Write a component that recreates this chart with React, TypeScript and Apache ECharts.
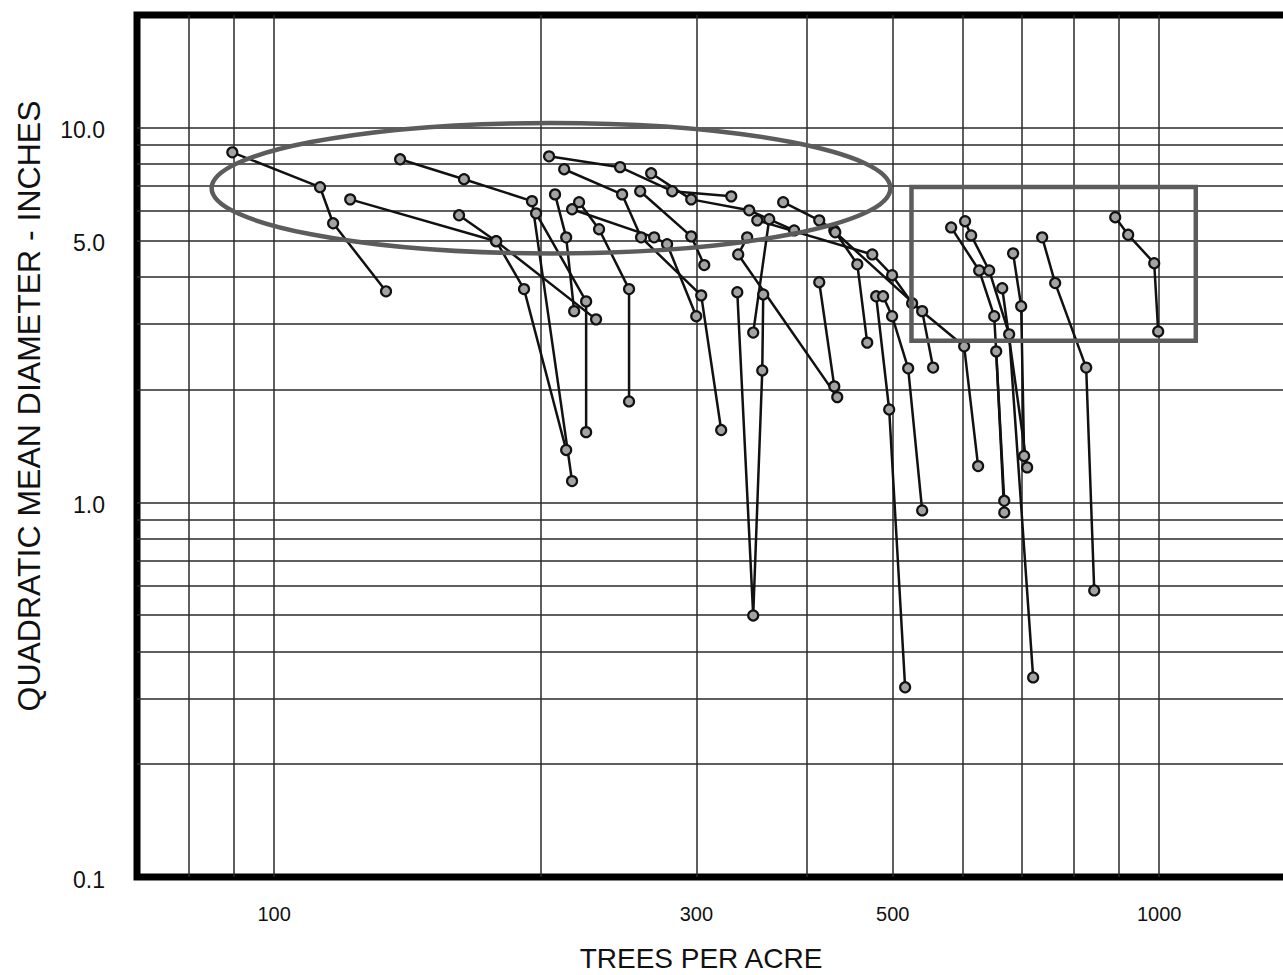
import React, { useEffect, useRef } from "react";
import * as echarts from "echarts";

// Axis ticks / grid values
const xLabelValues = [100, 300, 500, 1000];
const yLabelValues = [0.1, 1, 5, 10];
const xGridValues = [80, 90, 100, 200, 300, 400, 500, 600, 700, 800, 900, 1000];
const yGridValues = [0.2, 0.3, 0.4, 0.5, 0.6, 0.7, 0.8, 0.9, 1, 2, 3, 4, 5, 6, 7, 8, 9, 10];

// Stand trajectories: [trees per acre, quadratic mean diameter (in)]
const s01 = [[89.7, 8.6], [112.7, 6.94], [116.6, 5.56], [133.8, 3.66]];
const s02 = [[121.9, 6.44], [178.2, 4.98], [231.1, 3.08]];
const s03 = [[161.8, 5.84], [178.2, 4.98], [191.6, 3.71], [213.8, 1.38]];
const s04 = [[138.8, 8.24], [163.9, 7.29], [195.6, 6.37], [217.1, 1.14]];
const s05 = [[197.7, 5.91], [225.2, 3.44], [225.2, 1.54]];
const s06 = [[204.5, 8.39], [246.0, 7.85], [281.7, 6.77], [328.5, 6.56]];
const s07 = [[212.7, 7.75], [247.3, 6.64], [259.8, 5.1], [303.8, 3.57], [320.0, 1.56]];
const s08 = [[221.1, 6.33], [232.9, 5.36], [251.8, 3.71], [251.8, 1.86]];
const s09 = [[217.1, 6.06], [268.8, 5.1], [278.0, 4.89], [299.9, 3.14]];
const s10 = [[207.7, 6.64], [213.8, 5.1], [218.3, 3.24]];
const s11 = [[259.2, 6.77], [296.0, 5.13], [306.2, 4.3]];
const s12 = [[266.7, 7.56], [296.0, 6.44], [344.2, 6.02], [386.9, 5.32]];
const s13 = [[376.0, 6.33], [413.0, 5.66], [429.5, 5.32], [456.0, 4.32], [467.9, 2.67]];
const s14 = [[351.5, 5.66], [474.1, 4.59], [499.2, 4.04], [525.9, 3.4], [602.1, 2.61], [624.4, 1.25]];
const s15 = [[342.4, 5.1], [334.5, 4.59], [432.8, 1.91]];
const s16 = [[333.7, 3.64], [347.8, 0.499], [356.1, 2.25], [357.0, 3.59]];
const s17 = [[362.6, 5.7], [347.8, 2.84]];
const s18 = [[413.0, 3.87], [429.5, 2.04]];
const s19 = [[478.9, 3.55], [495.4, 1.77], [516.4, 0.321]];
const s20 = [[487.6, 3.55], [499.2, 3.14], [520.5, 2.28], [539.8, 0.952]];
const s21 = [[430.6, 5.26], [539.8, 3.24], [555.4, 2.29]];
const s22 = [[582.1, 5.42], [626.1, 4.16], [651.1, 3.14], [668.3, 1.01]];
const s23 = [[603.6, 5.63], [613.2, 5.16], [642.6, 4.16], [676.9, 2.81], [720.5, 0.341]];
const s24 = [[654.5, 2.53], [668.3, 0.94]];
const s25 = [[683.9, 4.62], [698.4, 3.34], [703.8, 1.33]];
const s26 = [[737.6, 5.1], [763.0, 3.85], [827.1, 2.29], [844.6, 0.582]];
const s27 = [[892.0, 5.77], [922.6, 5.18], [987.2, 4.35], [997.5, 2.86]];
const s28 = [[664.8, 3.73], [709.3, 1.24]];

const stands = [s01, s02, s03, s04, s05, s06, s07, s08, s09, s10, s11, s12, s13, s14,
  s15, s16, s17, s18, s19, s20, s21, s22, s23, s24, s25, s26, s27, s28];

// Annotation regions in data units
const ellipseX = [85, 497];
const ellipseY = [4.62, 10.3];
const boxX = [525, 1100];
const boxY = [2.7, 6.95];

const FONT = "'Liberation Sans', Arial, Helvetica, sans-serif";

export default function App() {
  const ref = useRef<HTMLDivElement>(null);
  useEffect(() => {
    if (!ref.current) return;
    const chart = echarts.init(ref.current, null, { renderer: "svg" });
    const series = stands.map((d, i) => ({
      type: "line",
      name: "stand" + (i + 1),
      data: d,
      symbol: "circle",
      symbolSize: 10,
      showAllSymbol: true,
      lineStyle: { color: "#111", width: 2.5 },
      itemStyle: { color: "#a3a3a3", borderColor: "#111", borderWidth: 2.2 },
      emphasis: { disabled: true },
      z: 3,
    }));
    chart.setOption({
      animation: false,
      backgroundColor: "#ffffff",
      textStyle: { fontFamily: FONT },
      grid: {
        left: 137, top: 15, bottom: 98, right: 5,
        outerBoundsMode: "none", containLabel: false,
        show: true, borderColor: "#000", borderWidth: 7, backgroundColor: "#fff",
      },
      xAxis: {
        type: "log", logBase: 10, min: 70, max: 1500,
        name: "TREES PER ACRE", nameLocation: "middle", nameGap: 67,
        nameTextStyle: { fontSize: 28, color: "#111", fontFamily: FONT, padding: [0, 50, 0, 0] },
        axisLine: { show: false },
        axisTick: { show: false, customValues: xGridValues },
        axisLabel: {
          customValues: xLabelValues, fontSize: 20, color: "#111", margin: 27, fontFamily: FONT,
          formatter: (v: number) => String(Math.round(v)),
        },
        splitLine: { show: true, lineStyle: { color: "#2a2a2a", width: 1.5 } },
        minorSplitLine: { show: false },
      },
      yAxis: {
        type: "log", logBase: 10, min: 0.1, max: 20,
        name: "QUADRATIC MEAN DIAMETER - INCHES", nameLocation: "middle", nameGap: 92,
        nameTextStyle: { fontSize: 32, color: "#111", fontFamily: FONT, padding: [0, 0, 0, 80] },
        axisLine: { show: false },
        axisTick: { show: false, customValues: yGridValues },
        axisLabel: {
          customValues: yLabelValues, fontSize: 23, color: "#111", margin: 32, fontFamily: FONT,
          verticalAlign: "top", lineHeight: 5,
          formatter: (v: number) => v.toFixed(1),
        },
        splitLine: { show: true, lineStyle: { color: "#2a2a2a", width: 1.5 } },
      },
      series,
    });

    const e1 = chart.convertToPixel({ gridIndex: 0 }, [ellipseX[0], ellipseY[1]]) as number[];
    const e2 = chart.convertToPixel({ gridIndex: 0 }, [ellipseX[1], ellipseY[0]]) as number[];
    const b1 = chart.convertToPixel({ gridIndex: 0 }, [boxX[0], boxY[1]]) as number[];
    const b2 = chart.convertToPixel({ gridIndex: 0 }, [boxX[1], boxY[0]]) as number[];
    chart.setOption({
      graphic: [
        {
          type: "ellipse", z: 10, silent: true,
          shape: { cx: (e1[0] + e2[0]) / 2, cy: (e1[1] + e2[1]) / 2, rx: Math.abs(e2[0] - e1[0]) / 2, ry: Math.abs(e2[1] - e1[1]) / 2 },
          style: { fill: "none", stroke: "#5c5c5c", lineWidth: 4.5 },
        },
        {
          type: "rect", z: 10, silent: true,
          shape: { x: b1[0], y: b1[1], width: b2[0] - b1[0], height: b2[1] - b1[1] },
          style: { fill: "none", stroke: "#5c5c5c", lineWidth: 4.5 },
        },
      ],
    });
    return () => chart.dispose();
  }, []);
  return (
    <div
      ref={ref}
      style={{ position: "fixed", left: 0, top: 0, width: 1320, height: 975, background: "#fff" }}
    />
  );
}
